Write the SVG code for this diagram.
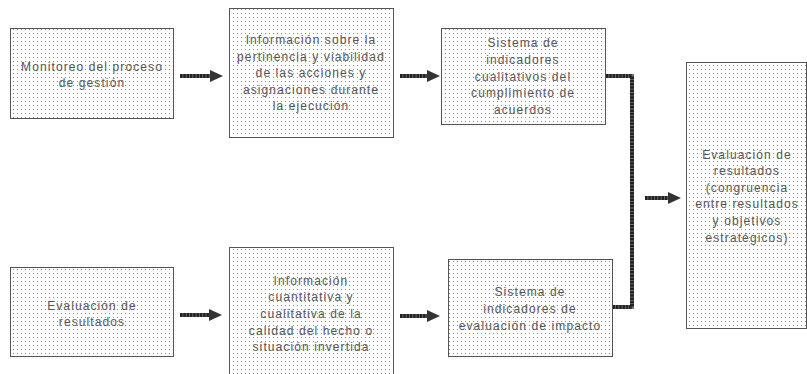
<svg xmlns="http://www.w3.org/2000/svg" width="807" height="374" viewBox="0 0 807 374">
<defs>
<pattern id="dots" width="4" height="4" patternUnits="userSpaceOnUse">
<rect width="4" height="4" fill="#ffffff"/>
<rect x="1" y="1" width="1" height="1" fill="#8a8a8a"/>
</pattern>
<marker id="ah" markerUnits="userSpaceOnUse" markerWidth="14" markerHeight="14" refX="0" refY="6" orient="auto">
<path d="M0,0 L13,6 L0,12 z" fill="#333"/>
</marker>
<style>
.box{fill:url(#dots);stroke:#555;stroke-width:1}
.t{font-family:"Liberation Sans",Arial,sans-serif;font-size:12px;fill:#555;letter-spacing:1.1px;text-anchor:middle}
.u{fill:none;stroke:#777;stroke-width:4}
.c{fill:none;stroke:#222;stroke-width:4;stroke-dasharray:2.5 0.8}
</style>
</defs>
<rect width="807" height="374" fill="#ffffff"/>
<g id="n1">
<rect class="box" x="10.5" y="28.5" width="163" height="90"/>
<text class="t" x="92" y="71">Monitoreo del proceso</text>
<text class="t" x="92" y="87">de gestión</text>
</g>
<g id="n2">
<rect class="box" x="229.5" y="8.5" width="164" height="129"/>
<text class="t" x="311" y="44">Información sobre la</text>
<text class="t" x="311" y="61">pertinencia y viabilidad</text>
<text class="t" x="311" y="77">de las acciones y</text>
<text class="t" x="311" y="94">asignaciones durante</text>
<text class="t" x="311" y="110">la ejecución</text>
</g>
<g id="n3">
<rect class="box" x="441.5" y="28.5" width="164" height="96"/>
<text class="t" x="523" y="47">Sistema de</text>
<text class="t" x="523" y="64">indicadores</text>
<text class="t" x="523" y="81">cualitativos del</text>
<text class="t" x="523" y="97">cumplimiento de</text>
<text class="t" x="523" y="114">acuerdos</text>
</g>
<g id="n4">
<rect class="box" x="10.5" y="267.5" width="163" height="89"/>
<text class="t" x="92" y="310">Evaluación de</text>
<text class="t" x="92" y="326">resultados</text>
</g>
<g id="n5">
<rect class="box" x="229.5" y="247.5" width="164" height="135"/>
<text class="t" x="311" y="285">Información</text>
<text class="t" x="311" y="301">cuantitativa y</text>
<text class="t" x="311" y="318">cualitativa de la</text>
<text class="t" x="311" y="335">calidad del hecho o</text>
<text class="t" x="311" y="351">situación invertida</text>
</g>
<g id="n6">
<rect class="box" x="448.5" y="259.5" width="164" height="97"/>
<text class="t" x="530" y="296">Sistema de</text>
<text class="t" x="530" y="313">indicadores de</text>
<text class="t" x="530" y="330">evaluación de impacto</text>
</g>
<g id="n7">
<rect class="box" x="686.5" y="62.5" width="120" height="266"/>
<text class="t" x="747" y="159">Evaluación de</text>
<text class="t" x="747" y="175">resultados</text>
<text class="t" x="747" y="192">(congruencia</text>
<text class="t" x="747" y="208">entre resultados</text>
<text class="t" x="747" y="225">y objetivos</text>
<text class="t" x="747" y="242">estratégicos)</text>
</g>
<g id="connectors">
<line class="u" x1="180" y1="76" x2="210" y2="76"/>
<line class="c" x1="180" y1="76" x2="210" y2="76" marker-end="url(#ah)"/>
<line class="u" x1="400" y1="76" x2="427" y2="76"/>
<line class="c" x1="400" y1="76" x2="427" y2="76" marker-end="url(#ah)"/>
<line class="u" x1="180" y1="315" x2="209" y2="315"/>
<line class="c" x1="180" y1="315" x2="209" y2="315" marker-end="url(#ah)"/>
<line class="u" x1="400" y1="316" x2="427" y2="316"/>
<line class="c" x1="400" y1="316" x2="427" y2="316" marker-end="url(#ah)"/>
<polyline class="u" points="606,76 632,76 632,307 613,307"/>
<polyline class="c" points="606,76 632,76 632,307 613,307"/>
<line class="u" x1="645" y1="198" x2="668" y2="198"/>
<line class="c" x1="645" y1="198" x2="668" y2="198" marker-end="url(#ah)"/>
</g>
</svg>
